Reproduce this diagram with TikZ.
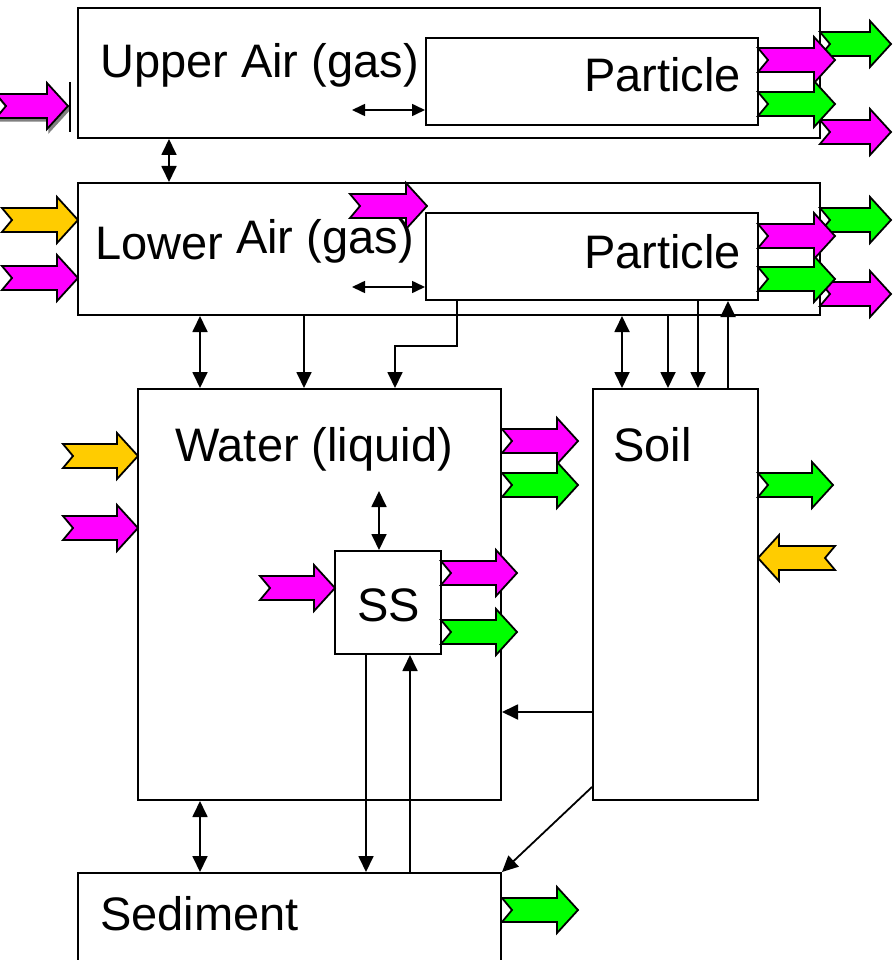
\documentclass[tikz,border=0pt]{standalone}
\usepackage{fontspec}
\setmainfont{Liberation Sans}
\usetikzlibrary{arrows.meta}
\definecolor{mag}{HTML}{FF00FF}
\definecolor{grn}{HTML}{00FF00}
\definecolor{yel}{HTML}{FFCC00}
\tikzset{
  box/.style={draw, line width=2pt, inner sep=0pt, fill=white},
  lbl/.style={font=\fontsize{47}{56}\selectfont, inner sep=0pt, anchor=base west},
  barrow/.style={draw=black, line width=1.8pt, line join=miter},
  con/.style={line width=1.8pt, -{Triangle[length=16pt,width=15pt]}},
  dcon/.style={line width=1.8pt, {Triangle[length=16pt,width=15pt]}-{Triangle[length=16pt,width=15pt]}},
  dsm/.style={line width=1.6pt, {Triangle[length=13pt,width=12pt]}-{Triangle[length=13pt,width=12pt]}}
}
\newcommand\BArrR[4]{\filldraw[barrow,fill=#1] (#2,#4-12) -- (#3-21,#4-12) -- (#3-21,#4-23) -- (#3,#4) -- (#3-21,#4+23) -- (#3-21,#4+12) -- (#2,#4+12) -- (#2+10,#4) -- cycle;}
\newcommand\BArrL[4]{\filldraw[barrow,fill=#1] (#3,#4-12) -- (#2+21,#4-12) -- (#2+21,#4-23) -- (#2,#4) -- (#2+21,#4+23) -- (#2+21,#4+12) -- (#3,#4+12) -- (#3-10,#4) -- cycle;}
\begin{document}
\begin{tikzpicture}[x=1pt,y=-1pt]
\useasboundingbox (0,0) rectangle (893,960);
% boxes
\node[box, minimum width=742pt, minimum height=130pt] (ua) at (449,73) {};
\node[box, minimum width=332pt, minimum height=87pt] (up) at (592,81.5) {};
\node[box, minimum width=742pt, minimum height=132pt] (la) at (449,249) {};
\node[box, minimum width=332pt, minimum height=87pt] (lp) at (592,256.5) {};
\node[box, minimum width=363pt, minimum height=411pt] (wa) at (319.5,594.5) {};
\node[box, minimum width=165pt, minimum height=411pt] (so) at (675.5,594.5) {};
\node[box, minimum width=106pt, minimum height=103pt] (ss) at (388,602.5) {};
\node[box, minimum width=423pt, minimum height=110pt] (se) at (289.5,928) {};
% labels
\node[lbl] (tua) at (100,78) {Upper Air (gas)};
\node[lbl] (tup) at (584,92) {Particle};
\node[lbl] (tla1) at (95,259) {Lower};
\node[lbl] (tla2) at (236,253) {Air (gas)};
\node[lbl] (tlp) at (584,268) {Particle};
\node[lbl] (twa) at (175,461) {Water (liquid)};
\node[lbl] (tso) at (613,461) {Soil};
\node[lbl] (tss) at (357,621) {SS};
\node[lbl] (tse) at (100,930) {Sediment};
% connectors
\coordinate (uq) at (352,110);
\coordinate (lq) at (352,287);
\coordinate (wq) at (379,491);
\draw[dcon] (169,0 |- ua.south) -- (169,0 |- la.north);
\draw[dsm] (uq) -- (up.west |- uq);
\draw[dsm] (lq) -- (lp.west |- lq);
\draw[dcon] (200,0 |- la.south) -- (200,0 |- wa.north);
\draw[con] (304,0 |- la.south) -- (304,0 |- wa.north);
\draw[con] (457,0 |- lp.south) |- (395,346) -- (395,0 |- wa.north);
\draw[dcon] (622,0 |- la.south) -- (622,0 |- so.north);
\draw[con] (668,0 |- la.south) -- (668,0 |- so.north);
\draw[con] (698,0 |- lp.south) -- (698,0 |- so.north);
\draw[con] (728,0 |- so.north) -- (728,0 |- lp.south);
\draw[dcon] (wq) -- (wq |- ss.north);
\draw[con] (366,0 |- ss.south) -- (366,0 |- se.north);
\draw[con] (410,0 |- se.north) -- (410,0 |- ss.south);
\draw[con] (so.west |- 0,712) -- (wa.east |- 0,712);
\draw[con] (so.west |- 0,787) -- (se.north east);
\draw[dcon] (200,0 |- wa.south) -- (200,0 |- se.north);
% top-left arrow with shadow and bar
\begin{scope}[shift={(2,3)}]
\filldraw[draw=gray, fill=gray, line width=1.5pt] (-4,94) -- (47,94) -- (47,83) -- (68,106) -- (47,129) -- (47,118) -- (-4,118) -- (6,106) -- cycle;
\end{scope}
\BArrR{mag}{-4}{68}{106}
\draw[line width=2pt] (70,82) -- (70,132);
% block arrows
\BArrR{grn}{820}{891}{44}
\BArrR{mag}{820}{891}{132}
\BArrR{mag}{758}{835}{60}
\BArrR{grn}{758}{835}{104}
\BArrR{yel}{2}{78}{220}
\BArrR{mag}{2}{78}{278}
\BArrR{mag}{350}{427}{206}
\BArrR{grn}{820}{891}{220}
\BArrR{mag}{820}{891}{294}
\BArrR{mag}{758}{835}{236}
\BArrR{grn}{758}{835}{279}
\BArrR{yel}{63}{138}{456}
\BArrR{mag}{63}{138}{528}
\BArrR{mag}{502}{578}{441}
\BArrR{grn}{502}{578}{485}
\BArrR{mag}{260}{335}{588}
\BArrR{mag}{441}{517}{573}
\BArrR{grn}{441}{517}{632}
\BArrR{grn}{758}{833}{485}
\BArrL{yel}{758}{835}{558}
\BArrR{grn}{502}{578}{910}
\end{tikzpicture}
\end{document}
